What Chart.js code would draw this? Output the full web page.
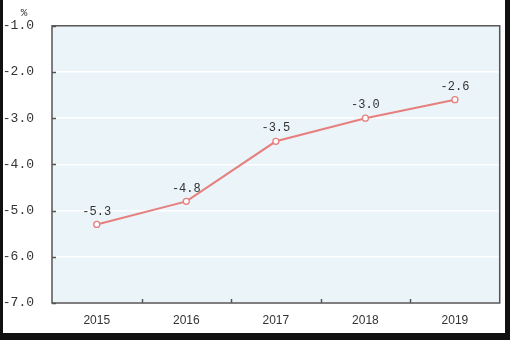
<!DOCTYPE html>
<html>
<head>
<meta charset="utf-8">
<script src="https://cdn.jsdelivr.net/npm/chart.js@4/dist/chart.umd.min.js"></script>
<style>
  html, body { margin: 0; padding: 0; background: #fff; }
  #wrap { width: 510px; height: 340px; box-sizing: border-box; border-left: 3px solid #111; border-right: 5px solid #111; border-bottom: 7px solid #111; background: #fff; }
  #wrap canvas { display: block; }
</style>
</head>
<body>
<div id="wrap"><canvas id="c" width="502" height="333"></canvas></div>
<script>
const years = ['2015', '2016', '2017', '2018', '2019'];
const values = [-5.3, -4.8, -3.5, -3.0, -2.6];
const yTicks = [-7, -6, -5, -4, -3, -2, -1];
const unit = '%';

const lineColor = '#e67f7d';

// plot background, frame, inner tick marks, unit and value labels
const decor = {
    id: 'decor',
    beforeDraw(chart) {
        const { ctx, chartArea: a } = chart;
        ctx.save();
        ctx.fillStyle = '#ebf4f8';
        ctx.fillRect(a.left, a.top, a.right - a.left, a.bottom - a.top);
        ctx.restore();
    },
    beforeDatasetsDraw(chart) {
        const { ctx, chartArea: a, scales: { x, y } } = chart;
        ctx.save();
        ctx.strokeStyle = '#555';
        ctx.lineWidth = 1.5;
        ctx.strokeRect(a.left, a.top, a.right - a.left, a.bottom - a.top);
        ctx.beginPath();
        yTicks.forEach(v => {
            const py = Math.round(y.getPixelForValue(v)) + 0.5;
            ctx.moveTo(a.left, py); ctx.lineTo(a.left + 4, py);
        });
        for (let i = 1; i < years.length; i++) {
            const px = Math.round((x.getPixelForValue(i - 1) + x.getPixelForValue(i)) / 2) + 0.5;
            ctx.moveTo(px, a.bottom); ctx.lineTo(px, a.bottom - 4);
        }
        ctx.stroke();
        ctx.fillStyle = '#333';
        ctx.font = '11px "Liberation Mono", monospace';
        ctx.textAlign = 'center';
        ctx.textBaseline = 'middle';
        ctx.fillText(unit, 21, a.top - 13);
        ctx.restore();
    },
    afterDatasetsDraw(chart) {
        const { ctx } = chart;
        const meta = chart.getDatasetMeta(0);
        ctx.save();
        ctx.fillStyle = '#333';
        ctx.font = '12px "Liberation Mono", monospace';
        ctx.textAlign = 'center';
        ctx.textBaseline = 'middle';
        meta.data.forEach((pt, i) => {
            ctx.fillText(values[i].toFixed(1), pt.x, pt.y - 13);
        });
        ctx.restore();
    }
};

new Chart(document.getElementById('c'), {
    type: 'line',
    data: {
        labels: years,
        datasets: [{
            data: values,
            borderColor: lineColor,
            borderWidth: 2,
            pointRadius: 3,
            pointBorderWidth: 1.3,
            pointBackgroundColor: '#fff',
            pointBorderColor: lineColor,
            tension: 0
        }]
    },
    options: {
        responsive: false,
        animation: false,
        layout: { padding: { left: 0, top: 25, right: 2, bottom: 0 } },
        plugins: { legend: { display: false }, tooltip: { enabled: false } },
        scales: {
            x: {
                offset: true,
                grid: { display: false, drawTicks: false },
                border: { display: false },
                ticks: { color: '#333', padding: 10, font: { family: '"Liberation Sans", Arial, sans-serif', size: 12 } },
                afterFit(s) { s.height = 30; }
            },
            y: {
                min: -7, max: -1,
                afterBuildTicks(s) { s.ticks = yTicks.map(v => ({ value: v })); },
                grid: { color: '#ffffff', lineWidth: 1.5, drawTicks: false },
                border: { display: false },
                ticks: {
                    color: '#333', padding: 18,
                    font: { family: '"Liberation Mono", monospace', size: 13 },
                    callback: v => v.toFixed(1)
                },
                afterFit(s) { s.width = 49; }
            }
        }
    },
    plugins: [decor]
});
</script>
</body>
</html>
